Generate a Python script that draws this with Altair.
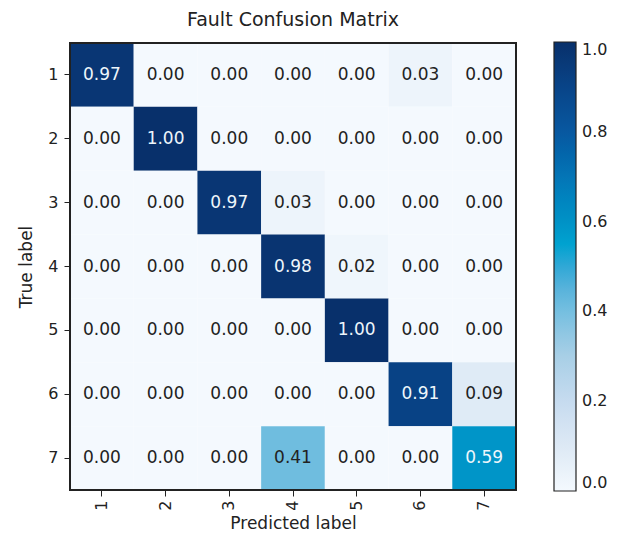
import altair as alt
import pandas as pd

labels = ["1", "2", "3", "4", "5", "6", "7"]
row1 = [0.97, 0.00, 0.00, 0.00, 0.00, 0.03, 0.00]
row2 = [0.00, 1.00, 0.00, 0.00, 0.00, 0.00, 0.00]
row3 = [0.00, 0.00, 0.97, 0.03, 0.00, 0.00, 0.00]
row4 = [0.00, 0.00, 0.00, 0.98, 0.02, 0.00, 0.00]
row5 = [0.00, 0.00, 0.00, 0.00, 1.00, 0.00, 0.00]
row6 = [0.00, 0.00, 0.00, 0.00, 0.00, 0.91, 0.09]
row7 = [0.00, 0.00, 0.00, 0.41, 0.00, 0.00, 0.59]
matrix = [row1, row2, row3, row4, row5, row6, row7]

records = []
for i, t in enumerate(labels):
    for j, p in enumerate(labels):
        records.append({"true": t, "pred": p, "value": matrix[i][j]})
df = pd.DataFrame(records)

stops = [0.0, 0.1, 0.2, 0.3, 0.4, 0.5, 0.55, 0.6, 0.7, 0.8, 0.9, 1.0]
colors = ["#f4f9fe", "#dde9f5", "#c6dbef", "#a8cfe6", "#75bfe0", "#30a8d6",
          "#00a2d0", "#0092c6", "#0475b6", "#0858a0", "#084488", "#08306b"]

FONT = "DejaVu Sans"
W, H = 446, 447

x = alt.X("pred:N", sort=labels, title="Predicted label",
          scale=alt.Scale(paddingInner=0, paddingOuter=0),
          axis=alt.Axis(labelAngle=270, labelAlign="right", labelBaseline="middle",
                        labelFontSize=16, titleFontSize=17, tickSize=6,
                        labelPadding=4, titlePadding=5, domain=False,
                        tickColor="#222222", labelColor="#222222", titleColor="#222222",
                        titleFontWeight="normal", labelFont=FONT, titleFont=FONT))
y = alt.Y("true:N", sort=labels, title="True label",
          scale=alt.Scale(paddingInner=0, paddingOuter=0),
          axis=alt.Axis(labelAngle=0, labelFontSize=16, titleFontSize=17, tickSize=6,
                        labelPadding=6, titlePadding=12, domain=False,
                        tickColor="#222222", labelColor="#222222", titleColor="#222222",
                        titleFontWeight="normal", labelFont=FONT, titleFont=FONT))

base = alt.Chart(df).encode(x=x, y=y)

rect = base.mark_rect().encode(
    color=alt.Color("value:Q",
                    scale=alt.Scale(domain=stops, range=colors, type="linear"),
                    legend=alt.Legend(title=None, orient="none", legendX=484, legendY=-1,
                                      direction="vertical",
                                      gradientLength=449, gradientThickness=22,
                                      gradientStrokeColor="#222222", gradientStrokeWidth=1.2,
                                      values=[0.0, 0.2, 0.4, 0.6, 0.8, 1.0], format=".1f",
                                      labelFontSize=16, labelFont=FONT, labelColor="#222222",
                                      labelBaseline="middle", labelOffset=6))
)

text = base.mark_text(fontSize=17, font=FONT).encode(
    text=alt.Text("value:Q", format=".2f"),
    color=alt.condition(alt.datum.value > 0.5, alt.value("#eef6fb"), alt.value("#222222"))
)

frame = alt.Chart(df).mark_rect(fill=None, stroke="#222222", strokeWidth=1.2).encode(
    x=alt.value(0), x2=alt.value(W), y=alt.value(0), y2=alt.value(H)
)

chart = (rect + text + frame).properties(
    width=W, height=H,
    title=alt.TitleParams("Fault Confusion Matrix", fontSize=19, font=FONT,
                          fontWeight="normal", anchor="middle", offset=12, color="#222222"),
    autosize=alt.AutoSizeParams(type="none"),
    padding={"left": 70, "top": 43, "right": 101, "bottom": 46},
).configure_view(stroke=None).configure(background="white")

chart.save("out.html", embed_options={"renderer": "svg", "actions": False})
